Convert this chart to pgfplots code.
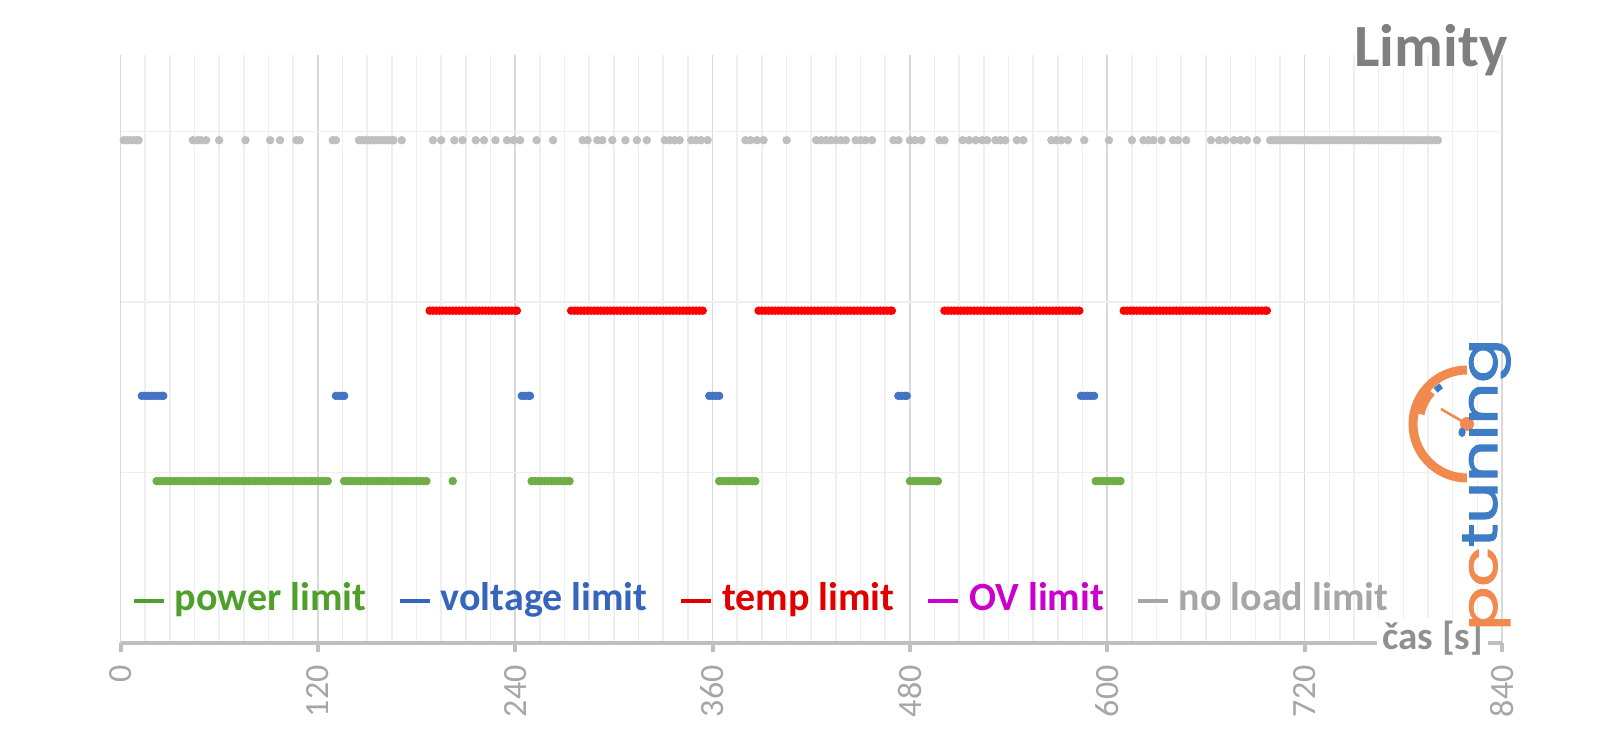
\documentclass[border=0pt]{standalone}
\usepackage{pgfplots}
\pgfplotsset{compat=1.18}
\usepackage{fontspec}
\setmainfont{Carlito}
\newfontfamily\logofont[FakeBold=2]{Poppins}
\definecolor{mGreen}{HTML}{70AD47}
\definecolor{mBlue}{HTML}{4472C4}
\definecolor{mRed}{HTML}{FF0000}
\definecolor{mGray}{HTML}{BFBFBF}
\definecolor{tGreen}{HTML}{4FA02A}
\definecolor{tBlue}{HTML}{3565BD}
\definecolor{tRed}{HTML}{E00000}
\definecolor{tMag}{HTML}{CC00CC}
\definecolor{tGray}{HTML}{A6A6A6}
\definecolor{axGray}{HTML}{BFBFBF}
\definecolor{titleGray}{HTML}{7F7F7F}
\definecolor{lblGray}{HTML}{909090}
\definecolor{majGrid}{HTML}{D9D9D9}
\definecolor{minGrid}{HTML}{EFEFEF}
\definecolor{logoOrange}{HTML}{F28A50}
\definecolor{logoBlue}{HTML}{3E7CC6}
\pgfplotsset{dotstyle/.style={only marks, mark=*, mark size=1.9pt, color=#1, mark options={fill=#1, draw=#1, line width=0.4pt}, forget plot}}
\begin{document}
\begin{tikzpicture}
\path[use as bounding box] (-60.25pt,-47.5pt) rectangle (739.75pt,321.5pt);
\begin{axis}[
  name=ax,
  at={(0pt,0pt)}, anchor=south west,
  scale only axis, width=690.75pt, height=294pt,
  xmin=0, xmax=840, ymin=0, ymax=3.45,
  clip=false,
  axis x line*=bottom, axis y line*=left,
  x axis line style={-, draw=axGray, line width=2pt},
  y axis line style={draw=none},
  xtick={0,120,...,840}, minor x tick num=7,
  ytick={1,2,3}, yticklabels={},
  ytick style={draw=none},
  xtick style={draw=axGray, line width=2pt},
  major tick length=4.5pt, minor tick length=0pt,
  tick align=outside,
  xmajorgrids, xminorgrids, ymajorgrids,
  major x grid style={draw=majGrid, line width=0.8pt},
  minor x grid style={draw=minGrid, line width=0.8pt},
  major y grid style={draw=minGrid, line width=0.8pt},
  /pgf/number format/assume math mode=true,
  xticklabel style={rotate=90, anchor=east, font=\fontsize{17}{17}\selectfont, text=tGray, inner sep=0pt},
  xticklabel shift=6.5pt,
  legend style={at={(axis cs:7,0.264)}, anchor=west, draw=none, fill=none, inner sep=0pt, outer sep=0pt,
    font=\fontsize{20}{20}\selectfont\bfseries,
    /tikz/every odd column/.append style={column sep=2.5pt},
    /tikz/every even column/.append style={column sep=14pt},
    cells={anchor=base west, inner sep=0pt}},
  legend columns=-1,
  legend image code/.code={\draw[#1, line width=1.8pt] (0pt,4.7pt) -- (15pt,4.7pt);},
]
% power limit
\addplot[dotstyle=mGreen] coordinates {
(22,0.95)(24,0.95)(26,0.95)(28,0.95)(30,0.95)(32,0.95)(34,0.95)(36,0.95)(38,0.95)(40,0.95)(42,0.95)(44,0.95)(46,0.95)(48,0.95)(50,0.95)(52,0.95)(54,0.95)(56,0.95)(58,0.95)(60,0.95)(62,0.95)(64,0.95)(66,0.95)(68,0.95)(70,0.95)(72,0.95)(74,0.95)(76,0.95)(78,0.95)(80,0.95)(82,0.95)(84,0.95)(86,0.95)(88,0.95)(90,0.95)(92,0.95)(94,0.95)(96,0.95)(98,0.95)(100,0.95)(102,0.95)(104,0.95)(106,0.95)(108,0.95)(110,0.95)(112,0.95)(114,0.95)(116,0.95)(118,0.95)(120,0.95)(122,0.95)(124,0.95)(126,0.95)
(136,0.95)(138,0.95)(140,0.95)(142,0.95)(144,0.95)(146,0.95)(148,0.95)(150,0.95)(152,0.95)(154,0.95)(156,0.95)(158,0.95)(160,0.95)(162,0.95)(164,0.95)(166,0.95)(168,0.95)(170,0.95)(172,0.95)(174,0.95)(176,0.95)(178,0.95)(180,0.95)(182,0.95)(184,0.95)(186,0.95)
(202,0.95)
(250,0.95)(252,0.95)(254,0.95)(256,0.95)(258,0.95)(260,0.95)(262,0.95)(264,0.95)(266,0.95)(268,0.95)(270,0.95)(272,0.95)(273,0.95)
(364,0.95)(366,0.95)(368,0.95)(370,0.95)(372,0.95)(374,0.95)(376,0.95)(378,0.95)(380,0.95)(382,0.95)(384,0.95)(386,0.95)
(480,0.95)(482,0.95)(484,0.95)(486,0.95)(488,0.95)(490,0.95)(492,0.95)(494,0.95)(496,0.95)(497,0.95)
(593,0.95)(595,0.95)(597,0.95)(599,0.95)(601,0.95)(603,0.95)(605,0.95)(607,0.95)(608,0.95)
};
% voltage limit
\addplot[dotstyle=mBlue] coordinates {
(13,1.45)(15,1.45)(17,1.45)(19,1.45)(21,1.45)(23,1.45)(25,1.45)(26,1.45)
(131,1.45)(133,1.45)(135,1.45)(136,1.45)
(244,1.45)(246,1.45)(248,1.45)(249,1.45)
(358,1.45)(360,1.45)(362,1.45)(364,1.45)
(473,1.45)(475,1.45)(477,1.45)(478,1.45)
(584,1.45)(586,1.45)(588,1.45)(590,1.45)(592,1.45)
};
% temp limit
\addplot[dotstyle=mRed] coordinates {
(188,1.95)(190,1.95)(192,1.95)(194,1.95)(196,1.95)(198,1.95)(200,1.95)(202,1.95)(204,1.95)(206,1.95)(208,1.95)(210,1.95)(212,1.95)(214,1.95)(216,1.95)(218,1.95)(220,1.95)(222,1.95)(224,1.95)(226,1.95)(228,1.95)(230,1.95)(232,1.95)(234,1.95)(236,1.95)(238,1.95)(240,1.95)(241,1.95)
(274,1.95)(276,1.95)(278,1.95)(280,1.95)(282,1.95)(284,1.95)(286,1.95)(288,1.95)(290,1.95)(292,1.95)(294,1.95)(296,1.95)(298,1.95)(300,1.95)(302,1.95)(304,1.95)(306,1.95)(308,1.95)(310,1.95)(312,1.95)(314,1.95)(316,1.95)(318,1.95)(320,1.95)(322,1.95)(324,1.95)(326,1.95)(328,1.95)(330,1.95)(332,1.95)(334,1.95)(336,1.95)(338,1.95)(340,1.95)(342,1.95)(344,1.95)(346,1.95)(348,1.95)(350,1.95)(352,1.95)(354,1.95)
(388,1.95)(390,1.95)(392,1.95)(394,1.95)(396,1.95)(398,1.95)(400,1.95)(402,1.95)(404,1.95)(406,1.95)(408,1.95)(410,1.95)(412,1.95)(414,1.95)(416,1.95)(418,1.95)(420,1.95)(422,1.95)(424,1.95)(426,1.95)(428,1.95)(430,1.95)(432,1.95)(434,1.95)(436,1.95)(438,1.95)(440,1.95)(442,1.95)(444,1.95)(446,1.95)(448,1.95)(450,1.95)(452,1.95)(454,1.95)(456,1.95)(458,1.95)(460,1.95)(462,1.95)(464,1.95)(466,1.95)(468,1.95)(469,1.95)
(501,1.95)(503,1.95)(505,1.95)(507,1.95)(509,1.95)(511,1.95)(513,1.95)(515,1.95)(517,1.95)(519,1.95)(521,1.95)(523,1.95)(525,1.95)(527,1.95)(529,1.95)(531,1.95)(533,1.95)(535,1.95)(537,1.95)(539,1.95)(541,1.95)(543,1.95)(545,1.95)(547,1.95)(549,1.95)(551,1.95)(553,1.95)(555,1.95)(557,1.95)(559,1.95)(561,1.95)(563,1.95)(565,1.95)(567,1.95)(569,1.95)(571,1.95)(573,1.95)(575,1.95)(577,1.95)(579,1.95)(581,1.95)(583,1.95)
(610,1.95)(612,1.95)(614,1.95)(616,1.95)(618,1.95)(620,1.95)(622,1.95)(624,1.95)(626,1.95)(628,1.95)(630,1.95)(632,1.95)(634,1.95)(636,1.95)(638,1.95)(640,1.95)(642,1.95)(644,1.95)(646,1.95)(648,1.95)(650,1.95)(652,1.95)(654,1.95)(656,1.95)(658,1.95)(660,1.95)(662,1.95)(664,1.95)(666,1.95)(668,1.95)(670,1.95)(672,1.95)(674,1.95)(676,1.95)(678,1.95)(680,1.95)(682,1.95)(684,1.95)(686,1.95)(688,1.95)(690,1.95)(692,1.95)(694,1.95)(696,1.95)(697,1.95)
};
% no load limit
\addplot[dotstyle=mGray] coordinates {
(2,2.95)(4,2.95)(6,2.95)(8,2.95)(10,2.95)(11,2.95)
(44,2.95)(47,2.95)(49,2.95)(52,2.95)(60,2.95)(76,2.95)(91,2.95)(97,2.95)(107,2.95)(109,2.95)
(129,2.95)(131,2.95)
(145,2.95)(147,2.95)(149,2.95)(151,2.95)(153,2.95)(155,2.95)(157,2.95)(159,2.95)(161,2.95)(163,2.95)(165,2.95)(166,2.95)(171,2.95)
(190,2.95)(195,2.95)(203,2.95)(208,2.95)(216,2.95)(221,2.95)(228,2.95)(235,2.95)(239,2.95)(243,2.95)(253,2.95)(263,2.95)
(281,2.95)(284,2.95)(290,2.95)(293,2.95)(299,2.95)(307,2.95)(314,2.95)(320,2.95)
(331,2.95)(334,2.95)(337,2.95)(340,2.95)(347,2.95)(350,2.95)(353,2.95)(357,2.95)
(380,2.95)(383,2.95)(387,2.95)(391,2.95)(405,2.95)
(423,2.95)(426,2.95)(429,2.95)(432,2.95)(435,2.95)(438,2.95)(441,2.95)(447,2.95)(450,2.95)(453,2.95)(457,2.95)
(470,2.95)(473,2.95)(480,2.95)(483,2.95)(487,2.95)(498,2.95)(501,2.95)
(512,2.95)(516,2.95)(520,2.95)(524,2.95)(527,2.95)(532,2.95)(535,2.95)(538,2.95)(545,2.95)(549,2.95)
(566,2.95)(569,2.95)(572,2.95)(576,2.95)(586,2.95)(601,2.95)
(615,2.95)(622,2.95)(625,2.95)(628,2.95)(633,2.95)(640,2.95)(643,2.95)(648,2.95)
(663,2.95)(668,2.95)(672,2.95)(677,2.95)(681,2.95)(685,2.95)(691,2.95)
(699,2.95)(701,2.95)(703,2.95)(705,2.95)(707,2.95)(709,2.95)(711,2.95)(713,2.95)(715,2.95)(717,2.95)(719,2.95)(721,2.95)(723,2.95)(725,2.95)(727,2.95)(729,2.95)(731,2.95)(733,2.95)(735,2.95)(737,2.95)(739,2.95)(741,2.95)(743,2.95)(745,2.95)(747,2.95)(749,2.95)(751,2.95)(753,2.95)(755,2.95)(757,2.95)(759,2.95)(761,2.95)(763,2.95)(765,2.95)(767,2.95)(769,2.95)(771,2.95)(773,2.95)(775,2.95)(777,2.95)(779,2.95)(781,2.95)(783,2.95)(785,2.95)(787,2.95)(789,2.95)(791,2.95)(793,2.95)(795,2.95)(797,2.95)(799,2.95)(801,2.95)
};
\addlegendimage{draw=tGreen}
\addlegendentry{\textcolor{tGreen}{power limit}}
\addlegendimage{draw=tBlue}
\addlegendentry{\textcolor{tBlue}{voltage limit}}
\addlegendimage{draw=tRed}
\addlegendentry{\textcolor{tRed}{temp limit}}
\addlegendimage{draw=tMag}
\addlegendentry{\textcolor{tMag}{OV limit}}
\addlegendimage{draw=tGray}
\addlegendentry{\textcolor{tGray}{no load limit}}
\end{axis}
% title
\node[anchor=base east, inner sep=0pt, text=titleGray, font=\fontsize{30}{30}\selectfont\bfseries, xshift=2.9pt, yshift=-6pt] at (ax.north east) {Limity};
% axis label
\node[anchor=base east, fill=white, inner xsep=2.5pt, inner ysep=2pt, text=lblGray, font=\fontsize{19.5}{19.5}\selectfont\bfseries, xshift=-6.75pt, yshift=-3.5pt] at (ax.south east) {čas [s]};
% logo
\draw[logoOrange, line width=4.5pt] (673.25pt,136.5pt) arc[start angle=90, end angle=270, radius=27pt];
\draw[logoOrange, line width=3.5pt] ([shift={(138:23.5pt)}]673.25pt,109.5pt) arc[start angle=138, end angle=168, radius=23.5pt];
\draw[logoBlue, line width=3pt] ([shift={(124:23pt)}]673.25pt,109.5pt) arc[start angle=124, end angle=133, radius=23pt];
\draw[logoOrange, line width=1.3pt] (673.25pt,109.5pt) -- (660.25pt,117pt);
\fill[logoOrange] (673.25pt,109.5pt) circle[radius=3.5pt];
\node[rotate=90, anchor=base west, inner sep=0pt, font=\logofont\fontsize{25}{25}\selectfont] at (688.25pt,6pt) {\scalebox{1.3}[1]{\textcolor{logoOrange}{pc}\textcolor{logoBlue}{tuning}}};
\end{tikzpicture}
\end{document}
